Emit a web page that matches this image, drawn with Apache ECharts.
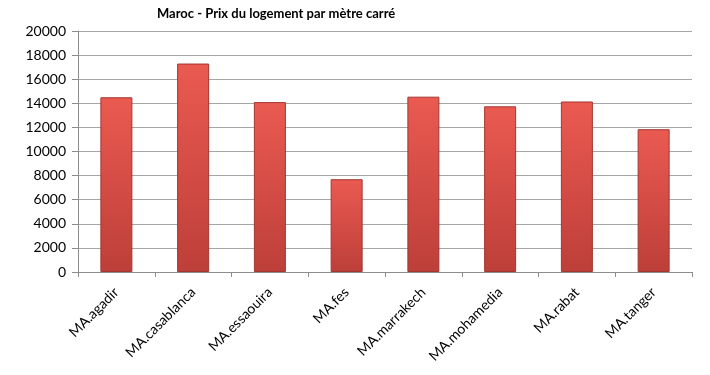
<!DOCTYPE html>
<html><head><meta charset="utf-8">
<script src="https://cdn.jsdelivr.net/npm/echarts@6/dist/echarts.min.js"></script>
<style>html,body{margin:0;padding:0;background:#fff}#c{width:710px;height:375px}</style>
</head><body><div id="c"></div>
<script>
var categories = ['MA.agadir','MA.casablanca','MA.essaouira','MA.fes','MA.marrakech','MA.mohamedia','MA.rabat','MA.tanger'];
var prices = [14500, 17300, 14100, 7700, 14550, 13750, 14150, 11850];
var yTicks = [0, 2000, 4000, 6000, 8000, 10000, 12000, 14000, 16000, 18000, 20000];

var chart = echarts.init(document.getElementById('c'));
chart.setOption({
  animation: false,
  title: {
    text: 'Maroc - Prix du logement par mètre carré',
    left: 152, top: 2,
    textStyle: {fontFamily: 'Lato', fontWeight: 'bold', fontSize: 13, color: '#000'}
  },
  grid: {left: 78, right: 18, top: 31, bottom: 103},
  xAxis: {
    type: 'category',
    data: categories,
    axisLine: {lineStyle: {color: '#8c8c8c'}},
    axisTick: {show: true, length: 5, lineStyle: {color: '#8c8c8c'}},
    axisLabel: {rotate: 45, fontFamily: 'Lato', fontSize: 14, color: '#000', margin: 18}
  },
  yAxis: {
    type: 'value',
    min: yTicks[0], max: yTicks[yTicks.length - 1], interval: 2000,
    axisLine: {show: true, lineStyle: {color: '#8c8c8c'}},
    axisTick: {show: true, length: 6, lineStyle: {color: '#8c8c8c'}},
    splitLine: {lineStyle: {color: '#a6a6a6'}},
    axisLabel: {fontFamily: 'Lato', fontSize: 14, color: '#000', margin: 12,
      formatter: function (v) { return String(v); }}
  },
  series: [{
    type: 'bar',
    data: prices,
    barWidth: 32,
    itemStyle: {
      color: new echarts.graphic.LinearGradient(0, 0, 0, 1, [
        {offset: 0, color: '#ea5a51'},
        {offset: 1, color: '#bd3f39'}
      ]),
      borderColor: '#a33631',
      borderWidth: 1
    }
  }]
});
</script></body></html>
